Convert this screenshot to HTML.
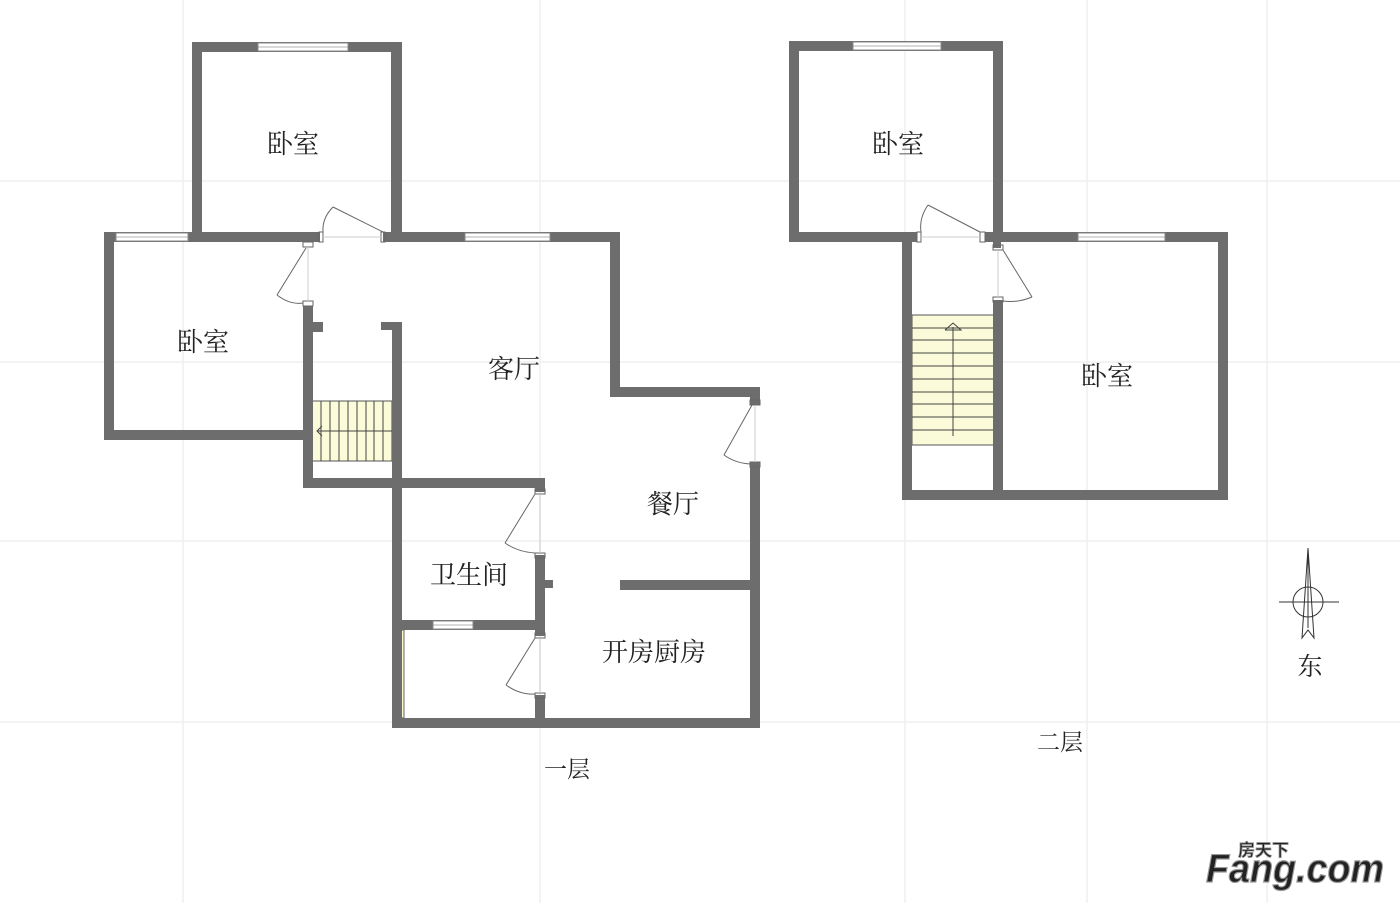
<!DOCTYPE html>
<html><head><meta charset="utf-8"><style>
html,body{margin:0;padding:0;background:#fff;}
svg{display:block;}
text{font-family:"Liberation Serif","Noto Serif CJK SC",serif;fill:#222;}
</style></head><body>
<svg width="1400" height="903" viewBox="0 0 1400 903" xmlns="http://www.w3.org/2000/svg">
<g stroke="#efefef" stroke-width="1.5">
<line x1="0" y1="181" x2="1400" y2="181"/><line x1="0" y1="362" x2="1400" y2="362"/>
<line x1="0" y1="541" x2="1400" y2="541"/><line x1="0" y1="722" x2="1400" y2="722"/>
<line x1="183" y1="0" x2="183" y2="903"/><line x1="540" y1="0" x2="540" y2="903"/>
<line x1="905" y1="0" x2="905" y2="903"/><line x1="1087" y1="0" x2="1087" y2="903"/>
<line x1="1267" y1="0" x2="1267" y2="903"/>
</g>
<!-- stairs -->
<rect x="312" y="401" width="88" height="60" fill="#fbfbd9" stroke="#555" stroke-width="1"/>
<g stroke="#444" stroke-width="1">
<line x1="321" y1="401" x2="321" y2="461"/><line x1="330" y1="401" x2="330" y2="461"/><line x1="339" y1="401" x2="339" y2="461"/><line x1="348" y1="401" x2="348" y2="461"/><line x1="357" y1="401" x2="357" y2="461"/><line x1="366" y1="401" x2="366" y2="461"/><line x1="374" y1="401" x2="374" y2="461"/><line x1="383" y1="401" x2="383" y2="461"/><line x1="392" y1="401" x2="392" y2="461"/>
<line x1="318" y1="431" x2="397" y2="431"/><polyline points="322,426 317,431 322,436" fill="none"/>
</g>
<rect x="912" y="315" width="83" height="130" fill="#fbfbd9" stroke="#555" stroke-width="1"/>
<g stroke="#444" stroke-width="1">
<line x1="912" y1="328" x2="995" y2="328"/><line x1="912" y1="340" x2="995" y2="340"/><line x1="912" y1="353" x2="995" y2="353"/><line x1="912" y1="366" x2="995" y2="366"/><line x1="912" y1="379" x2="995" y2="379"/><line x1="912" y1="392" x2="995" y2="392"/><line x1="912" y1="404" x2="995" y2="404"/><line x1="912" y1="417" x2="995" y2="417"/><line x1="912" y1="430" x2="995" y2="430"/>
<line x1="953" y1="436" x2="953" y2="327"/><polyline points="945,330 953,323 961,330 945,330" fill="none"/>
</g>
<rect x="394" y="630" width="10" height="88" fill="#f7f7c8" stroke="#666" stroke-width="1"/>
<g fill="none" stroke="#777" stroke-width="0.8"><circle cx="399" cy="637" r="2"/><circle cx="399" cy="663" r="2"/><circle cx="399" cy="690" r="2"/><circle cx="399" cy="714" r="2"/></g>
<!-- walls -->
<g fill="#6d6d6d">
<rect x="192" y="42" width="10" height="195"/><rect x="192" y="42" width="210" height="10"/><rect x="391" y="42" width="11" height="195"/>
<rect x="104" y="232" width="216" height="10"/><rect x="104" y="232" width="10" height="208"/><rect x="104" y="430" width="209" height="10"/>
<rect x="303" y="306" width="10" height="182"/><rect x="313" y="322" width="10" height="10"/>
<rect x="381" y="322" width="20" height="8"/><rect x="392" y="322" width="10" height="166"/>
<rect x="303" y="478" width="242" height="10"/>
<rect x="383" y="232" width="237" height="10"/><rect x="610" y="232" width="10" height="165"/><rect x="610" y="387" width="150" height="10"/>
<rect x="750" y="387" width="10" height="18"/><rect x="750" y="462" width="10" height="266"/>
<rect x="392" y="478" width="10" height="250"/><rect x="535" y="478" width="10" height="14"/><rect x="535" y="555" width="10" height="81"/><rect x="545" y="580" width="8" height="8"/>
<rect x="392" y="620" width="153" height="10"/><rect x="535" y="695" width="10" height="33"/>
<rect x="392" y="718" width="368" height="10"/><rect x="620" y="580" width="140" height="10"/>
<rect x="789" y="41" width="214" height="10"/><rect x="789" y="41" width="10" height="201"/><rect x="993" y="41" width="10" height="201"/>
<rect x="789" y="232" width="128" height="10"/><rect x="985" y="232" width="243" height="10"/>
<rect x="902" y="232" width="10" height="268"/><rect x="1218" y="232" width="10" height="268"/><rect x="902" y="490" width="326" height="10"/>
<rect x="993" y="300" width="10" height="195"/><rect x="993" y="242" width="8" height="6"/>
</g>
<g fill="#fff" stroke="#888" stroke-width="1">
<rect x="258" y="43" width="90" height="8"/><rect x="116" y="233" width="72" height="8"/><rect x="465" y="233" width="85" height="8"/>
<rect x="433" y="621" width="40" height="8"/><rect x="853" y="42" width="88" height="8"/><rect x="1078" y="233" width="87" height="8"/>
</g>
<g stroke="#999" stroke-width="0.8"><line x1="258" y1="47" x2="348" y2="47"/><line x1="116" y1="237" x2="188" y2="237"/><line x1="465" y1="237" x2="550" y2="237"/><line x1="433" y1="625" x2="473" y2="625"/><line x1="853" y1="46" x2="941" y2="46"/><line x1="1078" y1="237" x2="1165" y2="237"/></g>
<g fill="none" stroke="#666" stroke-width="1">
<rect x="319" y="232" width="4" height="10"/><rect x="381" y="232" width="4" height="10"/>
<line x1="323" y1="237" x2="381" y2="237" stroke="#ccc"/><line x1="383" y1="232" x2="333" y2="207"/><path d="M333,207 Q322,218 323,232"/>
<rect x="303" y="242" width="10" height="5"/><rect x="303" y="301" width="10" height="5"/>
<line x1="308" y1="247" x2="308" y2="301" stroke="#ccc"/><line x1="306" y1="248" x2="277" y2="295"/><path d="M277,295 Q290,305 303,303"/>
<rect x="750" y="400" width="10" height="5"/><rect x="750" y="462" width="10" height="5"/>
<line x1="755" y1="405" x2="755" y2="462" stroke="#ccc"/><line x1="752" y1="405" x2="724" y2="455"/><path d="M724,455 Q735,463 750,464"/>
<rect x="535" y="489" width="10" height="5"/><rect x="535" y="553" width="10" height="5"/>
<line x1="540" y1="494" x2="540" y2="553" stroke="#ccc"/><line x1="535" y1="494" x2="505" y2="543"/><path d="M505,543 Q518,552 535,553"/>
<rect x="535" y="633" width="10" height="5"/><rect x="535" y="693" width="10" height="5"/>
<line x1="540" y1="638" x2="540" y2="693" stroke="#ccc"/><line x1="535" y1="638" x2="506" y2="685"/><path d="M506,685 Q520,695 535,694"/>
<rect x="917" y="232" width="4" height="10"/><rect x="980" y="232" width="5" height="10"/>
<line x1="921" y1="237" x2="980" y2="237" stroke="#ccc"/><line x1="980" y1="232" x2="928" y2="205"/><path d="M928,205 Q919,218 921,232"/>
<rect x="993" y="245" width="10" height="5"/><rect x="993" y="297" width="10" height="5"/>
<line x1="998" y1="250" x2="998" y2="297" stroke="#ccc"/><line x1="1003" y1="250" x2="1032" y2="297"/><path d="M1032,297 Q1018,303 1003,301"/>
</g>
<g stroke="#333" fill="none" stroke-width="1">
<circle cx="1308" cy="602" r="15"/><line x1="1279" y1="602" x2="1339" y2="602"/>
<path d="M1308,548 L1302,638 L1308,630 L1314,638 Z"/><line x1="1308" y1="548" x2="1308" y2="628"/>
</g>
<g font-size="26" text-anchor="middle">
<text x="293" y="153">卧室</text><text x="203" y="351">卧室</text><text x="514" y="378">客厅</text>
<text x="673" y="513">餐厅</text><text x="469" y="584">卫生间</text><text x="654" y="661">开房厨房</text>
<text x="898" y="153">卧室</text><text x="1107" y="385">卧室</text>
<text x="567" y="777" font-size="23">一层</text><text x="1060" y="750" font-size="23">二层</text>
<text x="1310" y="675" font-size="25" fill="#555">东</text>
</g>
<text x="1206" y="882" font-size="40" font-weight="bold" font-style="italic" fill="#fff" stroke="#9a9a9a" stroke-width="1.2" textLength="178" lengthAdjust="spacingAndGlyphs" style="font-family:'Liberation Sans',sans-serif">Fang.com</text>
<text x="1238" y="856" font-size="17" font-weight="bold" fill="#fff" stroke="#9a9a9a" stroke-width="0.8" style="font-family:'Liberation Sans','Noto Sans CJK SC',sans-serif">房天下</text>
</svg>
</body></html>
